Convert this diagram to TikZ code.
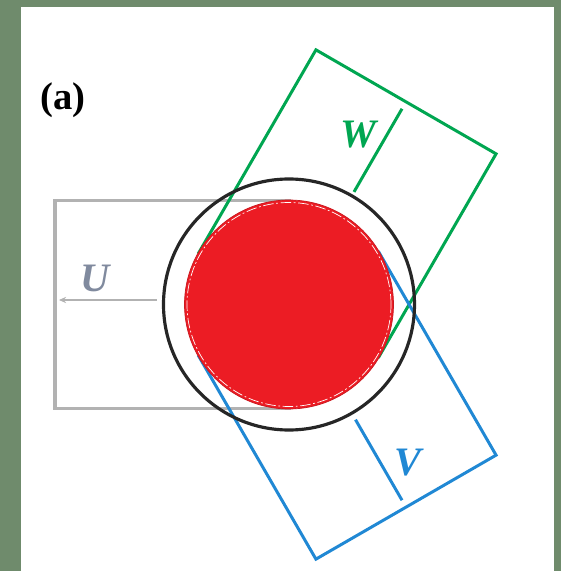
\documentclass[tikz,border=0pt]{standalone}
\usepackage{fontspec}
\setmainfont{Liberation Serif}
\usepackage{xcolor}
\usepackage{tikz}
\usetikzlibrary{arrows.meta, positioning}
\definecolor{framecolor}{RGB}{111,139,108}
\definecolor{ugray}{RGB}{178,178,178}
\definecolor{utext}{RGB}{128,138,158}
\definecolor{wgreen}{RGB}{0,166,81}
\definecolor{vblue}{RGB}{32,136,212}
\definecolor{corered}{RGB}{236,28,36}

\begin{document}
\begin{tikzpicture}[x=0.02cm, y=0.02cm,
  ubox/.style={draw=ugray, line width=1.9pt},
  wbox/.style={draw=wgreen, line width=1.7pt},
  vbox/.style={draw=vblue, line width=1.7pt},
  ring/.style={draw=black!85, line width=1.8pt},
  core/.style={fill=corered, draw=corered!85!black, line width=0.4pt},
  rim/.style={draw=white, line width=0.4pt, dash pattern=on 6pt off 1.5pt on 1pt off 1.5pt},
  gauge/.style={line width=1.7pt},
  lab/.style={font=\fontsize{23}{27}\selectfont\bfseries\itshape},
]
% frame and page
\fill[framecolor] (-289,-266.5) rectangle (272,304.5);
\useasboundingbox (-289,-266.5) rectangle (272,304.5);
\fill[white] (-268,-266.5) rectangle (265,297);

\coordinate (centre) at (0,0);

% the three boxes
\draw[ubox] (centre) ++(0,-104) rectangle (-234,104);
\begin{scope}[rotate=60]
  \draw[wbox] (0,-104) rectangle (234,104);
\end{scope}
\begin{scope}[rotate=-60]
  \draw[vbox] (0,-104) rectangle (234,104);
\end{scope}

% outer ring and core
\draw[ring] (centre) circle[radius=125.5];
\fill[core] (centre) circle[radius=104.5];
\draw[rim] (centre) circle[radius=102];

% gauges
\coordinate (ustart) at (-132,4.5);
\coordinate (uend) at (-230,4.5);
\coordinate (wstart) at (60:130);
\coordinate (wend) at (60:226);
\coordinate (vstart) at (-60:133);
\coordinate (vend) at (-60:226);
\draw[gauge, ugray, line width=1.1pt, -{Stealth[length=4pt, width=3.5pt]}] (ustart) -- (uend);
\draw[gauge, wgreen] (wstart) -- (wend);
\draw[gauge, vblue] (vstart) -- (vend);

% labels
\node[font=\fontsize{22}{26}\selectfont\bfseries] (tag) at (-226,204.5) {(a)};
\node[lab, text=utext] (ulab) at (-194,26.5) {U};
\node[lab, text=wgreen] (wlab) at (69,169.5) {W};
\node[lab, text=vblue] (vlab) at (119,-158.5) {V};
\end{tikzpicture}
\end{document}
